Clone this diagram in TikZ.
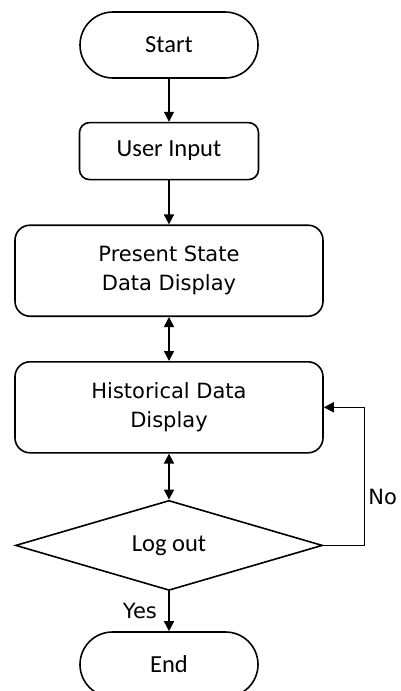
\documentclass[tikz,border=0pt]{standalone}
\usepackage{fontspec}
\setmainfont{Carlito}
\newfontfamily\wideface{DejaVu Sans}
\usepackage{tikz}
\usetikzlibrary{positioning}
\usetikzlibrary{arrows.meta,shapes.geometric,shapes.misc}

\begin{document}
\begin{tikzpicture}[x=1pt,y=1pt,line width=1.6pt,
  >={Triangle[length=10pt,width=10pt]},
  term/.style={draw,rounded rectangle,minimum width=178pt,minimum height=66pt,
    inner sep=0pt,font=\fontsize{24.5}{29}\selectfont},
  box/.style={draw,rectangle,rounded corners=10pt,minimum width=179pt,minimum height=57pt,
    inner sep=0pt,font=\fontsize{24.5}{29}\selectfont},
  bigbox/.style={draw,rectangle,rounded corners=15pt,minimum width=308pt,minimum height=91pt,
    inner sep=0pt,align=center,font=\wideface\fontsize{21}{29}\selectfont},
  decide/.style={draw,diamond,aspect=3.4,minimum width=307pt,minimum height=90pt,
    inner sep=0pt,font=\fontsize{24.5}{29}\selectfont},
  answer/.style={font=\wideface\fontsize{21}{25}\selectfont}]
\useasboundingbox (0,0) rectangle (400,-691);
%[nodes top to bottom]
\node (start)[term] at (169,-45) {Start};
\node (input)[box,below=43pt of start] {User Input};
\node (present)[bigbox,below=44pt of input] {Present State\\Data Display};
\node (hist)[bigbox,below=44pt of present] {Historical Data\\Display};
\node (logout)[decide,below=46pt of hist] {Log out};
\node (end)[term,below=40pt of logout,minimum height=65pt] {End};
%[connectors]
\draw [->](start) -- (input);
\draw [->](input) -- (present);
\draw [<->](present) -- (hist);
\draw [<->](hist) -- (logout);
\draw [->](logout) -- node[left,answer,xshift=-8pt]{Yes} (end);
\draw [->](logout.east) -- ++(41,0) |- node[pos=0.175,right,answer]{No} (hist.east);
\end{tikzpicture}
\end{document}
